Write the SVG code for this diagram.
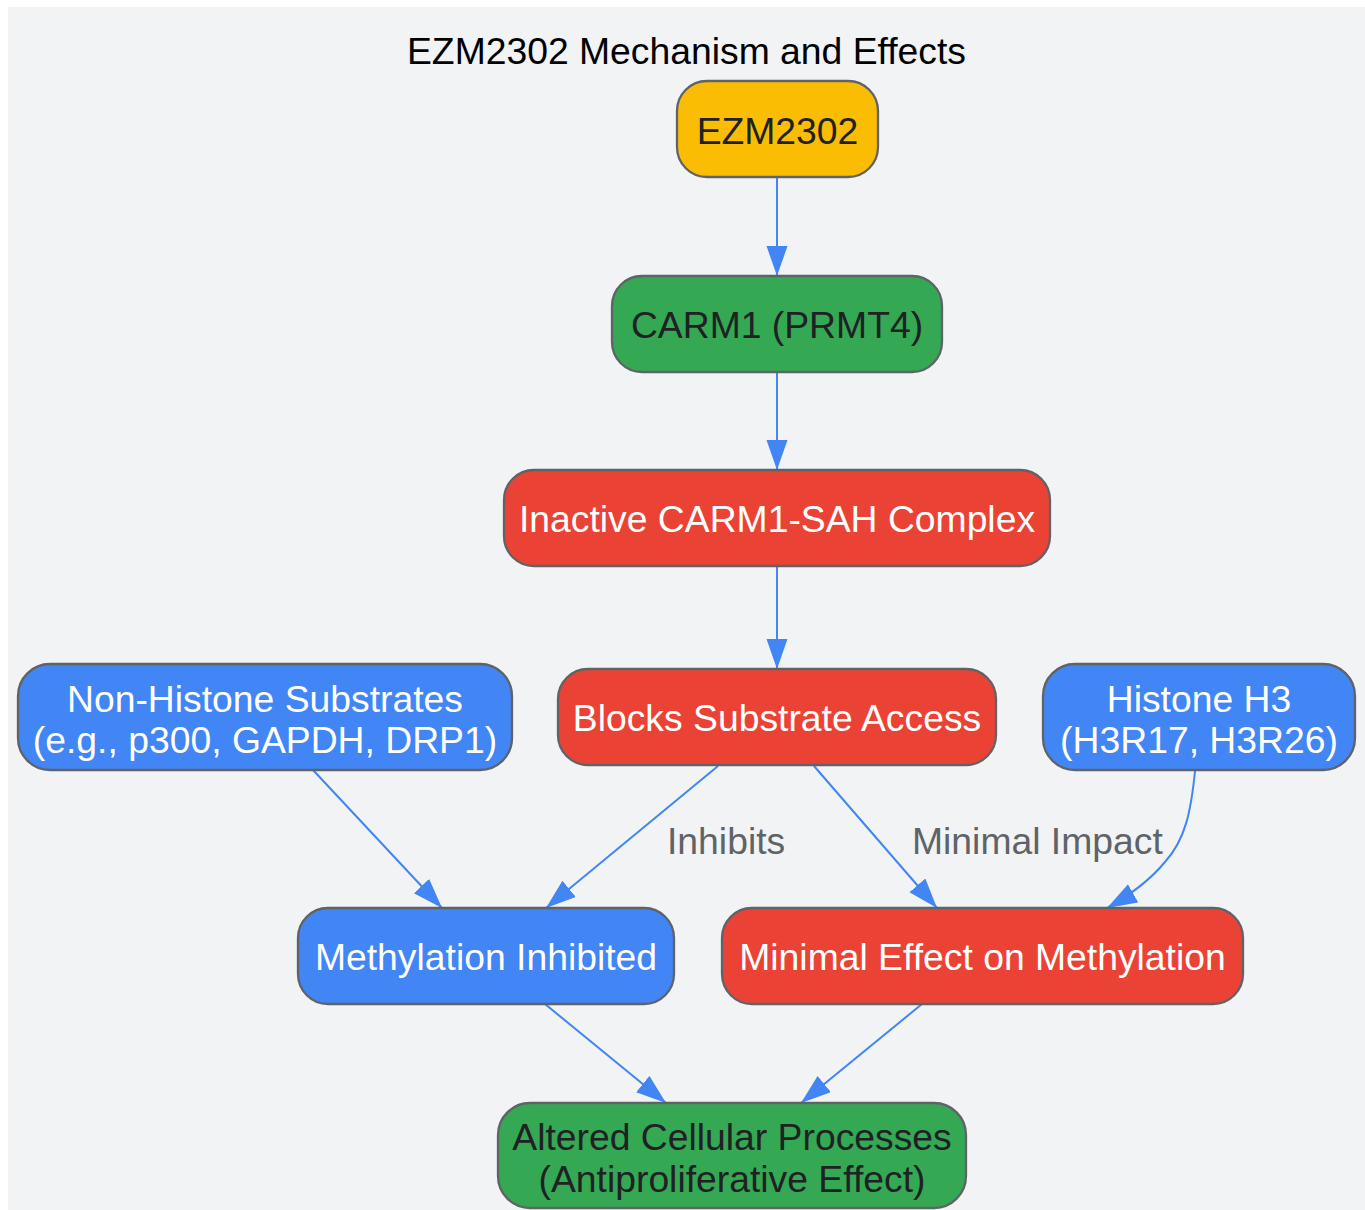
<svg xmlns="http://www.w3.org/2000/svg" width="1365" height="1210" viewBox="0 0 1365 1210">
<style>
  .bg { fill: #F1F3F4; }
  .node { stroke: #5F6368; stroke-width: 2.3; }
  .yellow { fill: #FBBC04; }
  .green { fill: #34A853; }
  .red { fill: #EA4335; }
  .blue { fill: #4285F4; }
  text { font-family: "Liberation Sans", Arial, sans-serif; font-size: 37.3px; text-anchor: middle; }
  .dark { fill: #202124; }
  .light { fill: #FFFFFF; }
  .title { fill: #000000; }
  .lbl { fill: #5F6368; text-anchor: start; }
  .edge { fill: none; stroke: #4285F4; stroke-width: 2; }
</style>
<defs>
  <marker id="arr" markerUnits="userSpaceOnUse" markerWidth="32" markerHeight="23" refX="30" refY="10.5" orient="auto">
    <path d="M0,0 L30,10.5 L0,21 Z" fill="#4285F4"/>
  </marker>
</defs>
<rect class="bg" x="8" y="7" width="1357" height="1203"/>
<text class="title" x="686.5" y="64">EZM2302 Mechanism and Effects</text>

<g id="connectors">
  <path class="edge" d="M777,177 L777,276" marker-end="url(#arr)"/>
  <path class="edge" d="M777,372 L777,470" marker-end="url(#arr)"/>
  <path class="edge" d="M777,566 L777,669" marker-end="url(#arr)"/>
  <path class="edge" d="M718,766 L546,908" marker-end="url(#arr)"/>
  <path class="edge" d="M313,770 L442,908" marker-end="url(#arr)"/>
  <path class="edge" d="M814,766 L937,908" marker-end="url(#arr)"/>
  <path class="edge" d="M1195,771 C1191,812 1185,840 1165,862 C1150,880 1132,894 1107,908" marker-end="url(#arr)"/>
  <path class="edge" d="M545,1004 L666,1103" marker-end="url(#arr)"/>
  <path class="edge" d="M922,1004 L801,1103" marker-end="url(#arr)"/>
  <text class="lbl" x="667" y="854">Inhibits</text>
  <text class="lbl" x="912" y="854">Minimal Impact</text>
</g>

<g id="ezm2302">
  <rect class="node yellow" x="677" y="81" width="201" height="96" rx="30" ry="30"/>
  <text class="dark" x="777.5" y="144">EZM2302</text>
</g>
<g id="carm1">
  <rect class="node green" x="612" y="276" width="330" height="96" rx="30" ry="30"/>
  <text class="dark" x="777" y="338">CARM1 (PRMT4)</text>
</g>
<g id="inactive">
  <rect class="node red" x="504" y="470" width="546" height="96" rx="30" ry="30"/>
  <text class="light" x="777" y="532">Inactive CARM1-SAH Complex</text>
</g>
<g id="blocks">
  <rect class="node red" x="558" y="669" width="438" height="96" rx="30" ry="30"/>
  <text class="light" x="777" y="731">Blocks Substrate Access</text>
</g>
<g id="nonhistone">
  <rect class="node blue" x="18" y="664" width="494" height="106" rx="32" ry="32"/>
  <text class="light" x="265" y="712">Non-Histone Substrates</text>
  <text class="light" x="265" y="753">(e.g., p300, GAPDH, DRP1)</text>
</g>
<g id="histone">
  <rect class="node blue" x="1043" y="664" width="312" height="106" rx="32" ry="32"/>
  <text class="light" x="1199" y="712">Histone H3</text>
  <text class="light" x="1199" y="753">(H3R17, H3R26)</text>
</g>
<g id="methinhibited">
  <rect class="node blue" x="298" y="908" width="376" height="96" rx="30" ry="30"/>
  <text class="light" x="486" y="970">Methylation Inhibited</text>
</g>
<g id="minimaleffect">
  <rect class="node red" x="722" y="908" width="521" height="96" rx="30" ry="30"/>
  <text class="light" x="982.5" y="970">Minimal Effect on Methylation</text>
</g>
<g id="altered">
  <rect class="node green" x="498" y="1103" width="468" height="105" rx="32" ry="32"/>
  <text class="dark" x="732" y="1150">Altered Cellular Processes</text>
  <text class="dark" x="732" y="1192">(Antiproliferative Effect)</text>
</g>
</svg>
